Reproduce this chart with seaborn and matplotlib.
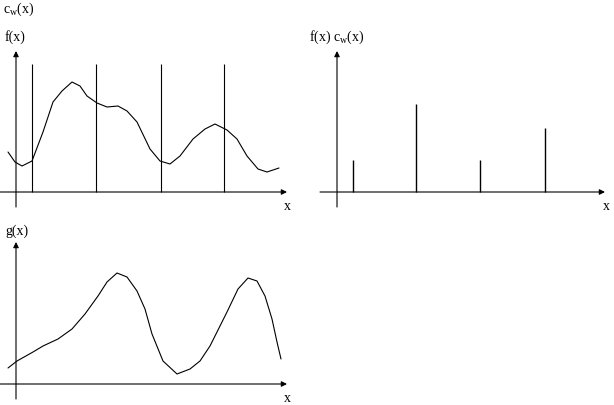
import matplotlib
matplotlib.use('Agg')
import matplotlib.pyplot as plt
import seaborn as sns

# f(x): signal sampled by eye, origin at the axes crossing
f_x = [-8, -1, 6, 16, 27, 37, 46, 56, 64, 71, 81, 91, 102, 111, 121, 134, 144,
       154, 164, 177, 189, 199, 211, 221, 231, 242, 251, 263]
f_y = [40, 30, 26, 31, 60, 90, 101, 110, 106, 96, 89, 85, 86, 81, 70, 43, 31,
       28, 36, 53, 63, 68, 62, 53, 36, 23, 20, 24]

# comb c_w(x)
comb_x = [16, 80, 145, 208]
comb_top = 128

# f(x) c_w(x)
stem_x = [16, 79, 143, 208]
stem_h = [32, 88, 32, 64]

# g(x)
g_x = [-8, 1, 17, 27, 42, 56, 69, 82, 91, 101, 111, 121, 129, 136, 147, 161,
       174, 184, 194, 211, 222, 232, 241, 249, 256, 261, 265]
g_y = [16, 23, 32, 38, 45, 55, 70, 88, 102, 111, 107, 93, 75, 50, 23, 10,
       15, 23, 38, 72, 95, 106, 103, 88, 65, 42, 25]

sns.set_style('white')
plt.rcParams['mathtext.fontset'] = 'custom'
plt.rcParams['mathtext.rm'] = 'Liberation Serif'
W, H = 614, 406
fig = plt.figure(figsize=(W / 100, H / 100), dpi=100)
font = dict(family='Liberation Serif', fontsize=10, color='black')


def panel(left, top, right, bottom, ox, oy, x_from, x_to, y_from, y_to):
    # axes placed in pixel units, 1 data unit = 1 pixel
    ax = fig.add_axes([left / W, 1 - bottom / H, (right - left) / W, (bottom - top) / H])
    ax.set_xlim(left - ox, right - ox)
    ax.set_ylim(oy - bottom, oy - top)
    ax.axis('off')
    arrow = dict(arrowstyle='-|>', color='black', lw=0.8, mutation_scale=8,
                 shrinkA=0, shrinkB=0)
    ax.annotate('', xy=(x_to, 0), xytext=(x_from, 0), arrowprops=arrow)
    ax.annotate('', xy=(0, y_to), xytext=(0, y_from), arrowprops=arrow)
    return ax


ax1 = panel(0, 40, 300, 215, 16, 193, -16, 271, -15, 141)
sns.lineplot(x=f_x, y=f_y, sort=False, color='black', lw=0.8, ax=ax1)
ax1.vlines(comb_x, 0, comb_top, color='black', lw=0.8)

ax2 = panel(310, 40, 614, 215, 337, 193, -17, 268, -15, 141)
ax2.vlines(stem_x, 0, stem_h, color='black', lw=1.0)

ax3 = panel(0, 232, 300, 406, 16, 385, -16, 271, -15, 142)
sns.lineplot(x=g_x, y=g_y, sort=False, color='black', lw=0.8, ax=ax3)

fig.text(3 / W, 1 - 13 / H, r'c$_{\mathrm{w}}$(x)', **font)
fig.text(5 / W, 1 - 41 / H, 'f(x)', **font)
fig.text(284 / W, 1 - 210 / H, 'x', **font)
fig.text(309 / W, 1 - 41 / H, r'f(x) c$_{\mathrm{w}}$(x)', **font)
fig.text(603 / W, 1 - 210 / H, 'x', **font)
fig.text(5 / W, 1 - 235 / H, 'g(x)', **font)
fig.text(284 / W, 1 - 402 / H, 'x', **font)

fig.savefig('out.png', dpi=100)
